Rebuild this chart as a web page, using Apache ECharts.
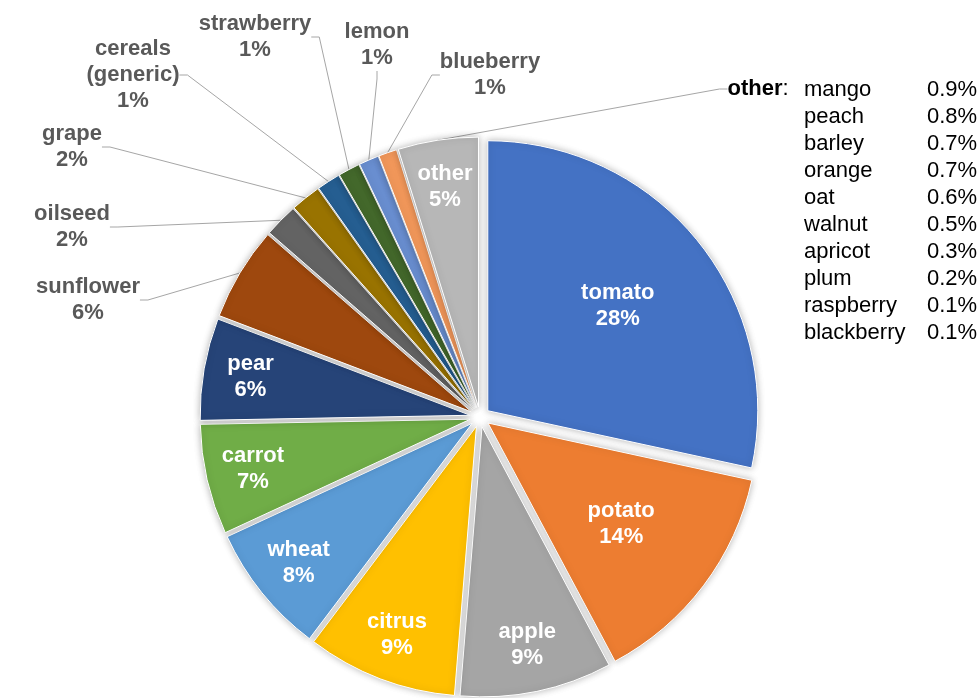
<!DOCTYPE html>
<html>
<head>
<meta charset="utf-8">
<script src="https://cdn.jsdelivr.net/npm/echarts@6/dist/echarts.min.js"></script>
<style>
html,body{margin:0;padding:0;background:#fff}
#chart{width:980px;height:698px}
</style>
</head>
<body>
<div id="chart"></div>
<script>
// ---- data ----
const categories = ['tomato','potato','apple','citrus','wheat','carrot','pear','sunflower','oilseed','grape','cereals (generic)','strawberry','lemon','blueberry','other'];
const shares = [28.4,13.8,9.1,9.0,7.8,6.6,6.1,5.6,2.0,1.8,1.4,1.3,1.2,1.1,4.8];
const otherNames = ['mango','peach','barley','orange','oat','walnut','apricot','plum','raspberry','blackberry'];
const otherShares = [0.9,0.8,0.7,0.7,0.6,0.5,0.3,0.2,0.1,0.1];

// ---- styling / layout ----
const colors = ['#4472C4','#ED7D31','#A5A5A5','#FFC000','#5B9BD5','#70AD47','#264478','#9E480E','#636363','#997300','#255E91','#43682B','#698ED0','#F1975A','#B7B7B7'];
const FONT = '"Liberation Sans", Arial, sans-serif';
const CENTER = [480, 417];
const innerNear = ['tomato','potato'];
const innerFar = ['apple','citrus','wheat','carrot','pear','other'];
const outerLabelAt = {
  'sunflower': [88, 300],
  'oilseed': [72, 227],
  'grape': [72, 147],
  'cereals (generic)': [133, 75],
  'strawberry': [255, 37],
  'lemon': [377, 45],
  'blueberry': [490, 75],
  'other': [758, 89]
};

function pctText(p) {
  return p.name.replace(' (', '\n(') + '\n' + Math.round(p.percent) + '%';
}

function insideOverlay(radius, names) {
  return {
    type: 'pie', center: CENTER, radius: radius, startAngle: 90, clockwise: true,
    silent: true, animation: false, avoidLabelOverlap: false,
    emphasis: { disabled: true },
    itemStyle: { color: 'rgba(0,0,0,0)', borderWidth: 0 },
    labelLine: { show: false },
    label: {
      show: true, position: 'inside', color: '#fff', fontFamily: FONT,
      fontSize: 22, fontWeight: 'bold', lineHeight: 26, formatter: pctText
    },
    data: categories.map((c, i) => ({ name: c, value: shares[i], label: { show: names.includes(c) } }))
  };
}

const chart = echarts.init(document.getElementById('chart'), null, { renderer: 'canvas' });

const listText = otherNames.map((n, i) => '{n|' + n + '}{v|' + otherShares[i].toFixed(1) + '%}').join('\n');

chart.setOption({
  animation: false,
  backgroundColor: '#fff',
  series: [
    {
      type: 'pie', center: CENTER, radius: 270, startAngle: 90, clockwise: true,
      selectedMode: 'multiple', selectedOffset: 10, animation: false,
      emphasis: { disabled: true },
      label: { show: false }, labelLine: { show: false },
      itemStyle: { borderColor: '#fff', borderWidth: 1, shadowBlur: 7, shadowColor: 'rgba(0,0,0,0.28)' },
      select: { itemStyle: { borderColor: '#fff', borderWidth: 1, shadowBlur: 7, shadowColor: 'rgba(0,0,0,0.28)' } },
      data: categories.map((c, i) => ({ name: c, value: shares[i], selected: true, itemStyle: { color: colors[i] } }))
    },
    {
      type: 'pie', center: CENTER, radius: 280, startAngle: 90, clockwise: true,
      silent: true, animation: false, avoidLabelOverlap: false,
      emphasis: { disabled: true },
      itemStyle: { color: 'rgba(0,0,0,0)', borderWidth: 0 },
      label: {
        show: true, position: 'outside', color: '#595959', fontFamily: FONT,
        fontSize: 22, fontWeight: 'bold', lineHeight: 26, overflow: 'none',
        formatter: function (p) {
          if (p.name === 'other') return '{b|other}{c|:}';
          return pctText(p);
        },
        rich: {
          b: { fontFamily: FONT, fontSize: 22, fontWeight: 'bold', color: '#000', lineHeight: 26 },
          c: { fontFamily: FONT, fontSize: 22, fontWeight: 'normal', color: '#000', lineHeight: 26 }
        }
      },
      labelLine: { show: true, length: 20, length2: 8, lineStyle: { color: '#a6a6a6', width: 1 } },
      labelLayout: function (params) {
        const pos = outerLabelAt[categories[params.dataIndex]];
        if (!pos) return {};
        return { x: pos[0], y: pos[1], align: 'center', verticalAlign: 'middle' };
      },
      data: categories.map((c, i) => {
        const on = outerLabelAt.hasOwnProperty(c);
        return { name: c, value: shares[i], label: { show: on }, labelLine: { show: on } };
      })
    },
    insideOverlay(460, innerFar),
    insideOverlay(348, innerNear)
  ],
  graphic: [
    {
      type: 'text', left: 804, top: 76,
      style: {
        text: listText, fill: '#000', fontFamily: FONT, fontSize: 22, lineHeight: 27,
        rich: {
          n: { width: 123, fontFamily: FONT, fontSize: 22, lineHeight: 27, fill: '#000' },
          v: { fontFamily: FONT, fontSize: 22, lineHeight: 27, fill: '#000' }
        }
      }
    }
  ]
});
</script>
</body>
</html>
